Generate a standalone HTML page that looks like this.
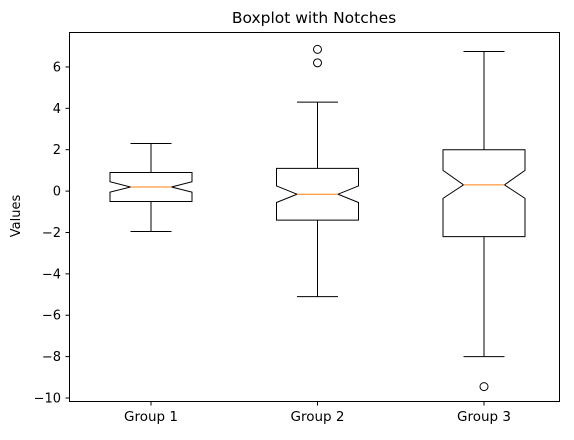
<!DOCTYPE html>
<html><head><meta charset="utf-8"><style>
body{margin:0;background:#fff;}
svg text{font-family:"DejaVu Sans","Liberation Sans",sans-serif;}
</style></head><body>
<svg id="chart" width="574" height="435">
<rect x="0" y="0" width="574" height="435" fill="#fff"/>
<text x="314" y="23" font-size="15.5" text-anchor="middle">Boxplot with Notches</text>
<text transform="translate(20,216) rotate(-90)" font-size="13" text-anchor="middle">Values</text>
<g id="plot"></g>
<rect x="69.5" y="32.5" width="490" height="369" fill="none" stroke="#000" stroke-width="1"/>
</svg>
<script>
const categories = ["Group 1","Group 2","Group 3"];
const whiskerLow = [-1.95, -5.1, -8.0];
const q1 = [-0.5, -1.4, -2.2];
const medians = [0.2, -0.15, 0.3];
const q3 = [0.9, 1.1, 2.0];
const whiskerHigh = [2.3, 4.3, 6.75];
const notchLow = [-0.05, -0.55, -0.35];
const notchHigh = [0.45, 0.25, 1.0];
const outliers = [[], [6.85, 6.2], [-9.45]];
const yTicks = [-10,-8,-6,-4,-2,0,2,4,6];

const ns="http://www.w3.org/2000/svg";
const g=document.getElementById('plot');
const y = v => 191.1 - v*20.69;
const x = i => 151 + i*166.5;
const half=41, nh=20.5, cap=20.5;
function mk(tag,attrs){const e=document.createElementNS(ns,tag);for(const k in attrs)e.setAttribute(k,attrs[k]);g.appendChild(e);return e;}
yTicks.forEach(t=>{
  const l=mk('line',{x1:65.5,x2:69.5,y1:y(t),y2:y(t),stroke:'#000'});
  
  
  const tx=mk('text',{x:61,y:y(t)+4.5,'font-size':13,'text-anchor':'end'});
  tx.textContent = t<0 ? '\u2212'+(-t) : String(t);
  
  
});
categories.forEach((c,i)=>{
  const cx=x(i);
  const tk=mk('line',{x1:cx,x2:cx,y1:401.5,y2:405.5,stroke:'#000'});
  
  
  const tx=mk('text',{x:cx,y:421,'font-size':13.5,'text-anchor':'middle'});
  tx.textContent=c;
  
  
  const pts=[[cx-half,y(q1[i])],[cx+half,y(q1[i])],[cx+half,y(notchLow[i])],[cx+nh,y(medians[i])],[cx+half,y(notchHigh[i])],[cx+half,y(q3[i])],[cx-half,y(q3[i])],[cx-half,y(notchHigh[i])],[cx-nh,y(medians[i])],[cx-half,y(notchLow[i])]];
  const box=mk('polygon',{points:pts.map(p=>p.join(',')).join(' '),fill:'none',stroke:'#000'});
  
  
  const w1=mk('line',{x1:cx,x2:cx,y1:y(q1[i]),y2:y(whiskerLow[i]),stroke:'#000'});
  
  
  const w2=mk('line',{x1:cx,x2:cx,y1:y(q3[i]),y2:y(whiskerHigh[i]),stroke:'#000'});
  
  
  const c1=mk('line',{x1:cx-cap,x2:cx+cap,y1:y(whiskerLow[i]),y2:y(whiskerLow[i]),stroke:'#000'});
  
  
  const c2=mk('line',{x1:cx-cap,x2:cx+cap,y1:y(whiskerHigh[i]),y2:y(whiskerHigh[i]),stroke:'#000'});
  
  
  const m=mk('line',{x1:cx-nh,x2:cx+nh,y1:y(medians[i]),y2:y(medians[i]),stroke:'#ff7f0e'});
  
  
  outliers[i].forEach(o=>{
    const ci=mk('circle',{cx:cx,cy:y(o),r:4,fill:'none',stroke:'#000'});
    
    
  });
});
</script>
</body></html>
